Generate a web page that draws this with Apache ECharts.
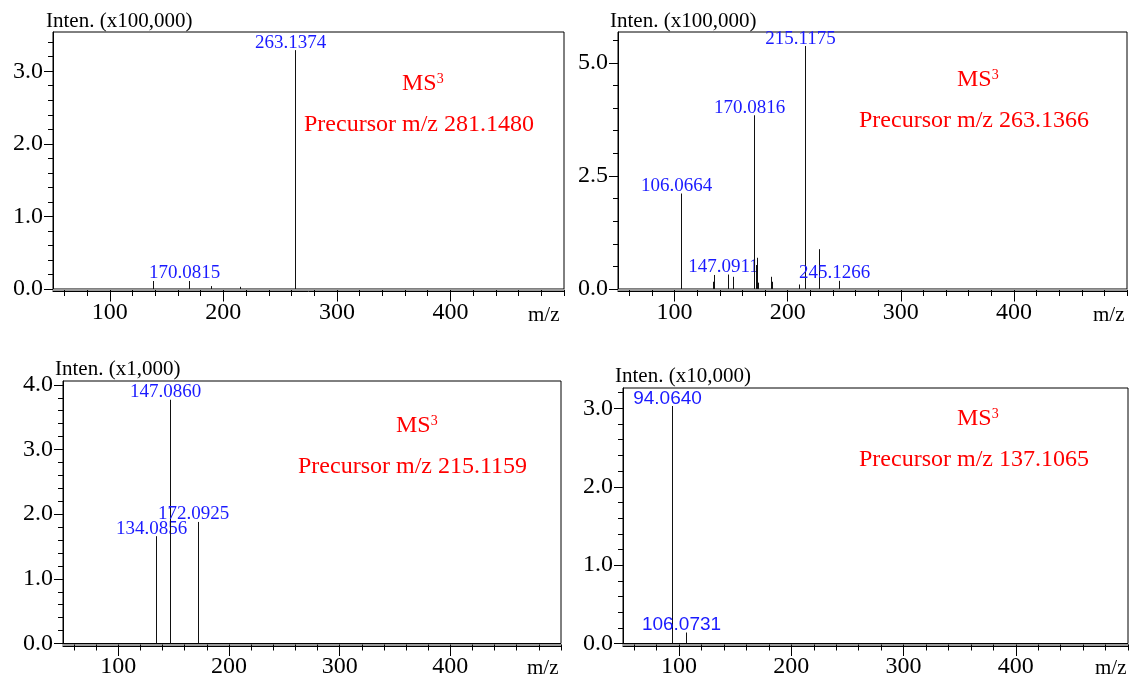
<!DOCTYPE html>
<html><head><meta charset="utf-8">
<script src="https://cdn.jsdelivr.net/npm/echarts@6/dist/echarts.min.js"></script>
<style>html,body{margin:0;padding:0;background:#fff}#c{width:1129px;height:679px}</style>
</head><body><div id="c"></div>
<script>
// ---------- data ----------
// Panel 1 : MS3 precursor 281.1480
const p1Mz     = [138.1, 170.0815, 189.1, 215.1, 263.1374];
const p1Int    = [0.11, 0.11, 0.04, 0.03, 3.29];
const p1Labels = ['', '170.0815', '', '', '263.1374'];
// Panel 2 : MS3 precursor 263.1366
const p2Mz     = [106.0664, 134.1, 135.1, 147.0911, 152.1, 170.0816, 172.1, 173.1, 174.1, 185.1, 186.1, 210.1, 215.1175, 228.1, 245.1266];
const p2Int    = [2.11, 0.16, 0.31, 0.32, 0.27, 3.84, 0.53, 0.69, 0.14, 0.27, 0.16, 0.10, 5.37, 0.88, 0.18];
const p2Labels = ['106.0664', '', '', '147.0911', '', '170.0816', '', '', '', '', '', '', '215.1175', '', '245.1266'];
// Panel 3 : MS3 precursor 215.1159
const p3Mz     = [134.0856, 147.0860, 172.0925];
const p3Int    = [1.66, 3.77, 1.88];
const p3Labels = ['134.0856', '147.0860', '172.0925'];
// Panel 4 : MS3 precursor 137.1065
const p4Mz     = [94.0640, 106.0731];
const p4Int    = [3.03, 0.14];
const p4Labels = ['94.0640', '106.0731'];

// ticks / texts
const xTickLabels = [100, 200, 300, 400];
const xMinorTicks = [60,80,100,120,140,160,180,200,220,240,260,280,300,320,340,360,380,400,420,440,460,480,500];
const yTickLabels = [[0,1,2,3],[0,2.5,5],[0,1,2,3,4],[0,1,2,3]];
const yMinorStep  = [0.2, 0.5, 0.2, 0.2];
const intenTexts  = ['Inten. (x100,000)', 'Inten. (x100,000)', 'Inten. (x1,000)', 'Inten. (x10,000)'];
const precursorTexts = ['Precursor m/z 281.1480', 'Precursor m/z 263.1366', 'Precursor m/z 215.1159', 'Precursor m/z 137.1065'];
const xName = 'm/z';

// ---------- layout ----------
const SERIF = 'Liberation Serif';
const SANS = 'Liberation Sans';
const panels = [
  {grid:{left:53, top:32, width:511, height:257}, yMax:3.54, mz:p1Mz, it:p1Int, lb:p1Labels, lblFont:SERIF, lblSize:19,
   inten:[46,21], ms:[402,84], pre:[304,125], mzPos:[528,315]},
  {grid:{left:618, top:32, width:509, height:257}, yMax:5.68, mz:p2Mz, it:p2Int, lb:p2Labels, lblFont:SERIF, lblSize:19,
   inten:[610,21], ms:[957,80], pre:[859,121], mzPos:[1093,315]},
  {grid:{left:63, top:381, width:498, height:267}, yMax:4.06, mz:p3Mz, it:p3Int, lb:p3Labels, lblFont:SERIF, lblSize:19,
   inten:[55,369], ms:[396,426], pre:[298,467], mzPos:[527,668]},
  {grid:{left:623, top:388, width:505, height:256}, yMax:3.26, mz:p4Mz, it:p4Int, lb:p4Labels, lblFont:SANS, lblSize:19,
   inten:[615,376], ms:[957,419], pre:[859,460], mzPos:[1095,668]}
];

const grids = [], xAxes = [], yAxes = [], series = [], graphics = [];
panels.forEach((p, i) => {
  grids.push(Object.assign({show:true, borderColor:'#000', borderWidth:1, backgroundColor:'transparent'}, p.grid));
  // major x axis (black line below the box)
  xAxes.push({gridIndex:i, type:'value', min:50, max:500, position:'bottom', offset:2.5,
    axisLine:{show:true, onZero:false, lineStyle:{color:'#000', width:1}},
    axisTick:{show:true, length:10, customValues:xTickLabels, lineStyle:{color:'#000'}},
    axisLabel:{show:true, customValues:xTickLabels, margin:9, fontFamily:SERIF, fontSize:24, color:'#000'},
    splitLine:{show:false}});
  // minor x axis (grey band + short ticks)
  xAxes.push({gridIndex:i, type:'value', min:50, max:500, position:'bottom', offset:1,
    axisLine:{show:true, onZero:false, lineStyle:{color:'#9a9a9a', width:2}},
    axisTick:{show:true, length:6, customValues:xMinorTicks, lineStyle:{color:'#000'}},
    axisLabel:{show:false}, splitLine:{show:false}});
  const minors = [];
  for (let v = yMinorStep[i]; v <= p.yMax + 1e-9; v += yMinorStep[i]) minors.push(+v.toFixed(2));
  yAxes.push({gridIndex:i, type:'value', min:0, max:p.yMax, position:'left',
    axisLine:{show:true, onZero:false, lineStyle:{color:'#000'}},
    axisTick:{show:true, length:9, customValues:yTickLabels[i], lineStyle:{color:'#000'}},
    axisLabel:{show:true, customValues:yTickLabels[i], margin:10, fontFamily:SERIF, fontSize:24, color:'#000',
      formatter: v => v.toFixed(1)},
    splitLine:{show:false}});
  yAxes.push({gridIndex:i, type:'value', min:0, max:p.yMax, position:'left',
    axisLine:{show:false}, axisTick:{show:true, length:5, customValues:minors, lineStyle:{color:'#000'}},
    axisLabel:{show:false}, splitLine:{show:false}});

  const labels = p.lb, lf = p.lblFont, ls = p.lblSize;
  series.push({type:'custom', coordinateSystem:'cartesian2d', xAxisIndex:2*i, yAxisIndex:2*i,
    silent:true, clip:false,
    data:p.mz.map((m,k) => [m, p.it[k]]),
    renderItem:(params, api) => {
      const x = api.value(0), y = api.value(1);
      const b = api.coord([x, 0]), t = api.coord([x, y]);
      const px = Math.round(b[0]) + 0.5;
      const children = [{type:'line', shape:{x1:px, y1:b[1], x2:px, y2:t[1]}, style:{stroke:'#111', lineWidth:1}}];
      const lbl = labels[params.dataIndex];
      if (lbl) children.push({type:'text', x:px - 5, y:t[1] + 2,
        style:{text:lbl, fontFamily:lf, fontSize:ls, fill:'#1a1aff', align:'center', verticalAlign:'bottom'}});
      return {type:'group', children};
    }});

  graphics.push({type:'text', x:p.inten[0], y:p.inten[1],
    style:{text:intenTexts[i], fontFamily:SERIF, fontSize:21, fill:'#000', align:'left', verticalAlign:'middle'}});
  graphics.push({type:'text', x:p.ms[0], y:p.ms[1],
    style:{text:'{a|MS}{b|3}', align:'left', verticalAlign:'middle',
      rich:{a:{fontFamily:SERIF, fontSize:24, fill:'#ff0000', lineHeight:24},
            b:{fontFamily:SERIF, fontSize:14, fill:'#ff0000', verticalAlign:'top', lineHeight:16}}}});
  graphics.push({type:'text', x:p.pre[0], y:p.pre[1],
    style:{text:precursorTexts[i], fontFamily:SERIF, fontSize:24, fill:'#ff0000', align:'left', verticalAlign:'middle'}});
  graphics.push({type:'text', x:p.mzPos[0], y:p.mzPos[1],
    style:{text:xName, fontFamily:SERIF, fontSize:21, fill:'#000', align:'left', verticalAlign:'middle'}});
});

const chart = echarts.init(document.getElementById('c'), null, {renderer:'canvas'});
chart.setOption({animation:false, backgroundColor:'#fff', grid:grids, xAxis:xAxes, yAxis:yAxes, series, graphic:graphics});
</script>
</body></html>
